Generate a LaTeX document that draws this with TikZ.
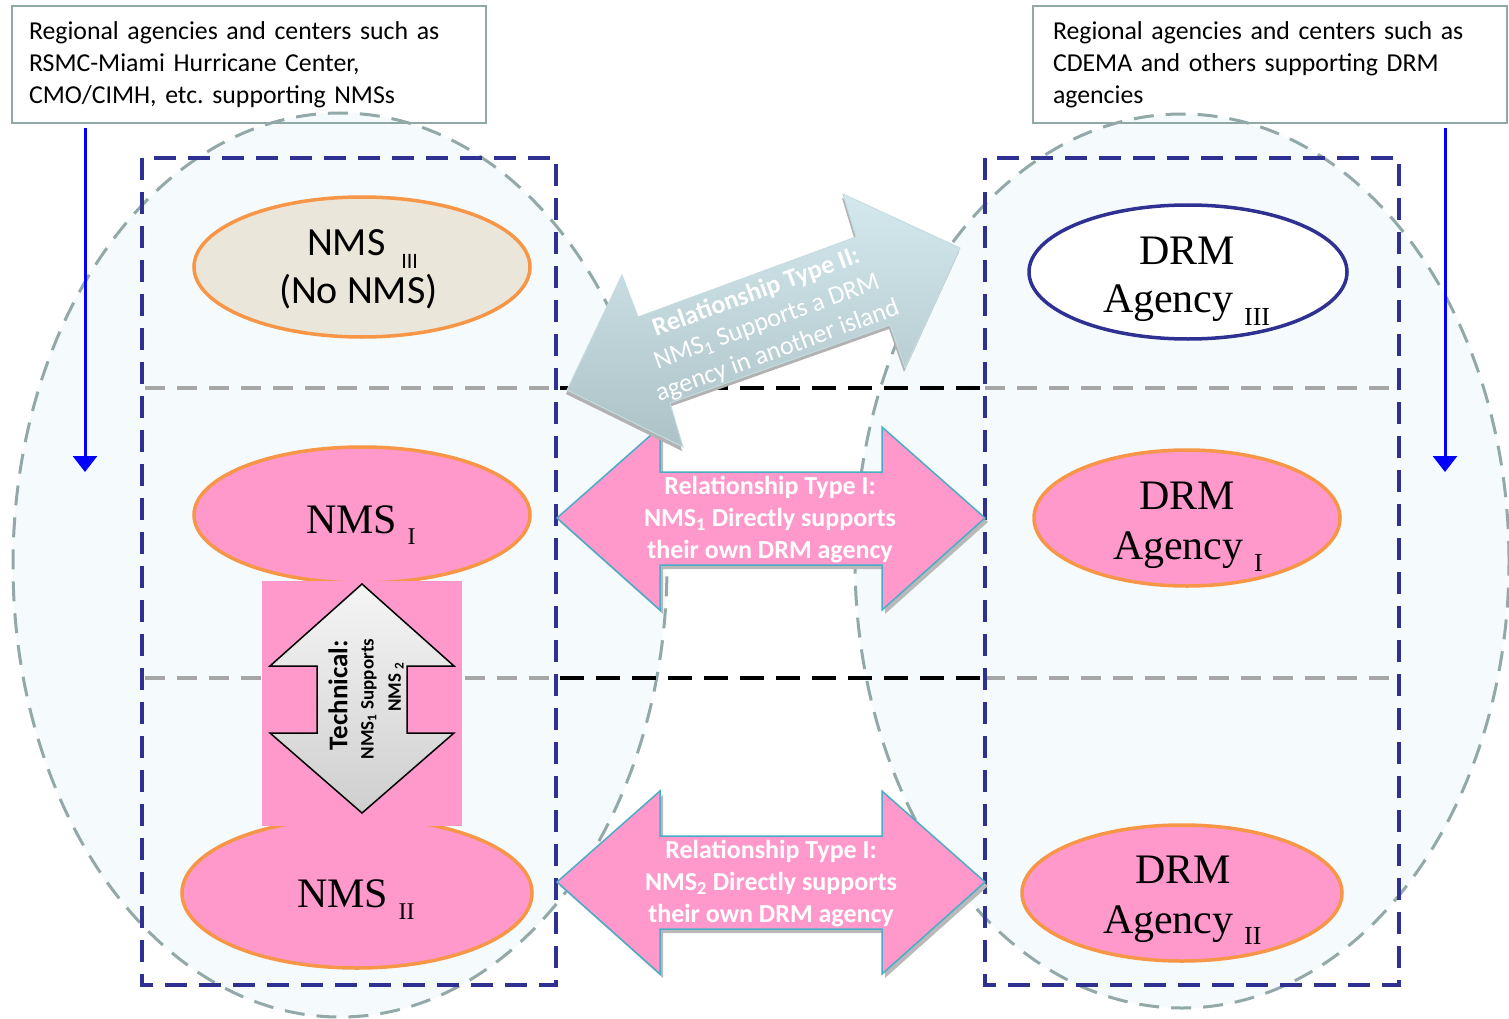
\documentclass[tikz,border=0pt]{standalone}
\usepackage{fontspec}
\setmainfont{Carlito}
\newfontfamily\tms{Liberation Serif}
\usetikzlibrary{shapes.geometric,arrows.meta}
\definecolor{navy}{HTML}{2E3192}
\definecolor{pinkf}{HTML}{FF99CC}
\definecolor{orng}{HTML}{F79646}
\definecolor{beige}{HTML}{EAE6DA}
\definecolor{ellfill}{HTML}{F5FAFC}
\definecolor{elldash}{HTML}{93A9A9}
\definecolor{boxline}{HTML}{90A8A8}
\definecolor{tealline}{HTML}{4BACC6}
\definecolor{divgray}{HTML}{A6A6A6}
\definecolor{diagtop}{HTML}{D4E9ED}
\definecolor{diagbot}{HTML}{ADC2C6}
\definecolor{diagedge}{HTML}{C4DCE0}
\definecolor{bluearr}{HTML}{0000FF}
\newcommand\mysub[3]{{\fontsize{#1}{#1}\selectfont\raisebox{-#2pt}{#3}}}
\frenchspacing
\begin{document}
\begin{tikzpicture}[x=1pt,y=-1pt,
  every node/.style={inner sep=0pt, outer sep=0pt},
  infobox/.style={draw=boxline, line width=1.6pt, anchor=north west, align=left,
     font=\fontsize{25.8}{32}\selectfont, inner ysep=0pt, minimum height=117pt},
  ell/.style={ellipse, line width=3.5pt, inner sep=0pt},
  tline/.style={anchor=base west, font=\tms\fontsize{42}{48}\selectfont},
  cline/.style={anchor=base west, font=\fontsize{40}{48}\selectfont},
  navydash/.style={draw=navy, line width=4pt, dash pattern=on 22pt off 12pt},
  graydash/.style={draw=divgray, line width=3.5pt, dash pattern=on 20pt off 12pt},
  blackdash/.style={draw=black, line width=4pt, dash pattern=on 24pt off 12pt},
  elldash/.style={draw=elldash, line width=3pt, dash pattern=on 20pt off 12pt},
  bluearrow/.style={draw=bluearr, line width=3pt, -{Triangle[width=24pt,length=16pt]}},
  pinkarrow/.style={fill=pinkf, draw=tealline, line width=1.5pt, line join=miter},
  techarrow/.style={top color=gray!8, bottom color=gray!38, draw=black, line width=1.5pt},
  ptxt/.style={align=center, text=white, font=\bfseries\fontsize{26}{32}\selectfont},
  dtxt/.style={align=center, text=white, font=\fontsize{26}{31}\selectfont},
]
\useasboundingbox (0,0) rectangle (1509,1019);
\fill[white] (0,0) rectangle (1509,1019);
% big regions
\fill[ellfill] (340,565) ellipse [x radius=327pt, y radius=452pt];
\fill[ellfill] (1182,561) ellipse [x radius=327pt, y radius=447pt];
% info boxes
\node[infobox, text width=440pt, inner xsep=17pt] (boxL) at (12,6)
  {Regional agencies and centers such as\\RSMC-Miami Hurricane Center,\\CMO/CIMH, etc. supporting NMSs};
\node[infobox, text width=434pt, inner xsep=20pt] (boxR) at (1033,6)
  {Regional agencies and centers such as\\CDEMA and others supporting DRM\\agencies};
\draw[elldash] (340,565) ellipse [x radius=327pt, y radius=452pt];
\draw[elldash] (1182,561) ellipse [x radius=327pt, y radius=447pt];
% dividers
\foreach \yy in {388,678} {
  \draw[graydash] (145,\yy) -- (556,\yy);
  \draw[blackdash] (560,\yy) -- (985,\yy);
  \draw[graydash] (985,\yy) -- (1399,\yy);
}
% dashed columns
\draw[navydash] (142,158) rectangle (556,985);
\draw[navydash] (985,158) rectangle (1399,985);
% blue arrows
\coordinate (la1) at (85,128);
\coordinate (la2) at (85,472);
\coordinate (ra1) at (1445,128);
\coordinate (ra2) at (1445,472);
\draw[bluearrow] (la1) -- (la2);
\draw[bluearrow] (ra1) -- (ra2);
% ellipses
\node[ell, fill=beige, draw=orng, minimum width=336pt, minimum height=140pt] (nms3) at (362,267) {};
\node[ell, fill=pinkf, draw=orng, minimum width=336pt, minimum height=136pt] (nms1) at (362,515) {};
\node[ell, fill=pinkf, draw=orng, minimum width=350pt, minimum height=150pt] (nms2) at (357,893) {};
\node[ell, fill=white, draw=navy, minimum width=318pt, minimum height=134pt] (drm3) at (1188,272) {};
\node[ell, fill=pinkf, draw=orng, minimum width=306pt, minimum height=136pt] (drm1) at (1187,518) {};
\node[ell, fill=pinkf, draw=orng, minimum width=320pt, minimum height=136pt] (drm2) at (1182,893) {};
\fill[pinkf] (262,581) rectangle (462,826);
% ellipse texts
\node[cline] (n3a) at (307,255) {NMS\hspace{16pt}\mysub{22}{13}{III}};
\node[cline] (n3b) at (279,303) {(No NMS)};
\node[tline] (n1a) at (306,533) {NMS \mysub{24}{11}{I}};
\node[tline] (n2a) at (297,907) {NMS \mysub{24}{12}{II}};
\node[tline] (d3a) at (1139,264) {DRM};
\node[tline] (d3b) at (1103,312) {Agency \mysub{26}{13}{III}};
\node[tline] (d1a) at (1139,509) {DRM};
\node[tline] (d1b) at (1113,559) {Agency \mysub{26}{12}{I}};
\node[tline] (d2a) at (1135,883) {DRM};
\node[tline] (d2b) at (1103,933) {Agency \mysub{26}{11}{II}};
% technical arrow
\draw[techarrow] (362,584) -- (454,666) -- (407,666) -- (407,733) -- (454,733) -- (362,813)
  -- (270,733) -- (317,733) -- (317,666) -- (270,666) -- cycle;
\node[rotate=90, font=\bfseries\fontsize{27}{27}\selectfont] (tech1) at (338,695) {Technical:};
\node[rotate=90, font=\bfseries\fontsize{19}{19}\selectfont] (tech2) at (369,699) {NMS\textsubscript{1} Supports};
\node[rotate=90, font=\bfseries\fontsize{19}{19}\selectfont] (tech3) at (396,687) {NMS \textsubscript{2}};
% pink arrows
\foreach \yy in {518,882} {
  \fill[gray!55, shift={(3,4)}] (557,\yy) -- (660,{\yy-91}) -- (660,{\yy-46}) -- (882,{\yy-46})
    -- (882,{\yy-91}) -- (985,\yy) -- (882,{\yy+92}) -- (882,{\yy+47}) -- (660,{\yy+47})
    -- (660,{\yy+92}) -- cycle;
  \draw[pinkarrow] (557,\yy) -- (660,{\yy-91}) -- (660,{\yy-46}) -- (882,{\yy-46})
    -- (882,{\yy-91}) -- (985,\yy) -- (882,{\yy+92}) -- (882,{\yy+47}) -- (660,{\yy+47})
    -- (660,{\yy+92}) -- cycle;
}
\node[ptxt] (rel1) at (770,520) {Relationship Type I:\\NMS\textsubscript{1} Directly supports\\their own DRM agency};
\node[ptxt] (rel2) at (771,884) {Relationship Type I:\\NMS\textsubscript{2} Directly supports\\their own DRM agency};
% diagonal arrow
\fill[gray!60, shift={(-1,4)}] (567,390) -- (622,275) -- (638,317) -- (856,237) -- (843,194)
  -- (960,248) -- (905,368) -- (890,325) -- (670,403) -- (683,447) -- cycle;
\shade[top color=diagtop, bottom color=diagbot, draw=diagedge, line width=1pt]
  (567,390) -- (622,275) -- (638,317) -- (856,237) -- (843,194)
  -- (960,248) -- (905,368) -- (890,325) -- (670,403) -- (683,447) -- cycle;
\node[dtxt, rotate=20] (rel3) at (767,322) {\textbf{Relationship Type II:}\\NMS\textsubscript{1} Supports a DRM\\agency in another island};
\end{tikzpicture}
\end{document}
